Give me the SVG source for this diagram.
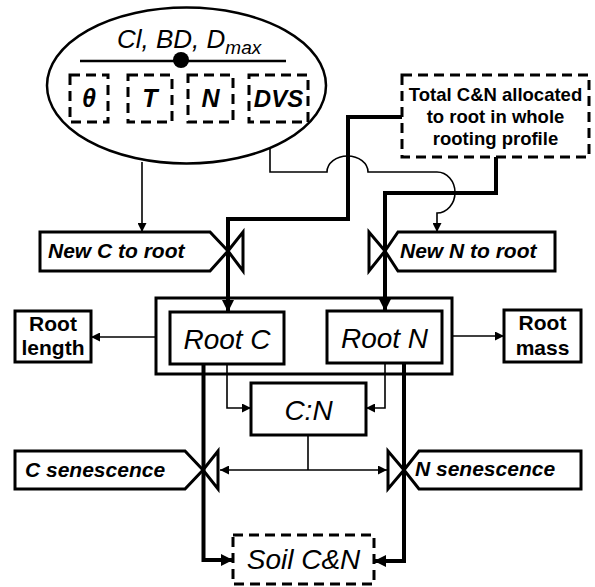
<svg xmlns="http://www.w3.org/2000/svg" width="595" height="587" viewBox="0 0 595 587">
<style>
text{font-family:"Liberation Sans",Arial,sans-serif;fill:#000}
.box{fill:#fff;stroke:#000;stroke-width:3}
.dash{fill:none;stroke:#000;stroke-width:3;stroke-dasharray:10,6}
.thin{fill:none;stroke:#000;stroke-width:1.6}
.thick{fill:none;stroke:#000;stroke-width:4}
.bi{font-weight:bold;font-style:italic}
.it{font-style:italic}
.b{font-weight:bold}
</style>
<defs>
<marker id="ah" viewBox="0 0 10 10" refX="10" refY="5" markerWidth="11" markerHeight="9" markerUnits="userSpaceOnUse" orient="auto"><path d="M0,0L10,5L0,10z" fill="#000"/></marker>
<marker id="ahT" viewBox="0 0 10 10" refX="10" refY="5" markerWidth="13" markerHeight="12" markerUnits="userSpaceOnUse" orient="auto"><path d="M0,0L10,5L0,10z" fill="#000"/></marker>
</defs>
<rect width="595" height="587" fill="#fff"/>

<g id="soil-properties">
<ellipse cx="186.5" cy="85.5" rx="139.5" ry="78" fill="#fff" stroke="#000" stroke-width="2.5"/>
<text x="117" y="48" font-size="26" class="it">Cl, BD, D<tspan font-size="19" dy="6">max</tspan></text>
<line x1="80" y1="61" x2="286" y2="61" stroke="#000" stroke-width="2.5"/>
<circle cx="181" cy="60" r="8" fill="#000"/>
<rect x="70" y="75" width="38" height="47" class="dash"/>
<rect x="128" y="75" width="44" height="47" class="dash"/>
<rect x="188" y="75" width="45" height="47" class="dash"/>
<rect x="249" y="75" width="59" height="47" class="dash"/>
<text x="89" y="107" font-size="25" class="bi" text-anchor="middle">θ</text>
<text x="150" y="107" font-size="25" class="bi" text-anchor="middle">T</text>
<text x="210.5" y="107" font-size="25" class="bi" text-anchor="middle">N</text>
<text x="278.5" y="107" font-size="24" class="bi" text-anchor="middle">DVS</text>
</g>

<g id="total-cn">
<rect x="402" y="75" width="187" height="82" class="dash"/>
<text font-size="18.5" class="b" text-anchor="middle"><tspan x="495.5" y="101">Total C&amp;N allocated</tspan><tspan x="495.5" y="123">to root in whole</tspan><tspan x="495.5" y="145">rooting profile</tspan></text>
</g>

<g id="new-c-to-root">
<path d="M40,232H210L228,251L210,271H40Z" class="box"/>
<path d="M228,251L243,232V271Z" class="box"/>
<text x="48" y="258" font-size="21" class="bi">New C to root</text>
</g>

<g id="new-n-to-root">
<path d="M385,251L398,232H555V271H398Z" class="box"/>
<path d="M385,251L369,232V271Z" class="box"/>
<text x="400" y="258" font-size="21" class="bi">New N to root</text>
</g>

<g id="root-pool">
<rect x="156" y="298" width="296" height="76" class="box"/>
</g>
<g id="root-c">
<rect x="170" y="312" width="114" height="52" class="box"/>
<text x="227" y="349" font-size="28" class="it" text-anchor="middle">Root C</text>
</g>
<g id="root-n">
<rect x="327" y="311" width="115" height="52" class="box"/>
<text x="384.5" y="348" font-size="28" class="it" text-anchor="middle">Root N</text>
</g>

<g id="root-length">
<rect x="15" y="311" width="76" height="51" class="box"/>
<text font-size="21" class="b" text-anchor="middle"><tspan x="53" y="331">Root</tspan><tspan x="53" y="355">length</tspan></text>
</g>
<g id="root-mass">
<rect x="504" y="310" width="77" height="52" class="box"/>
<text font-size="21" class="b" text-anchor="middle"><tspan x="542.5" y="330">Root</tspan><tspan x="542.5" y="355">mass</tspan></text>
</g>

<g id="cn-ratio">
<rect x="251" y="383" width="115" height="52" class="box"/>
<text x="308.5" y="420" font-size="28" class="it" text-anchor="middle">C:N</text>
</g>

<g id="c-senescence">
<path d="M15,451H185L203,470L185,489H15Z" class="box"/>
<path d="M203,470L218,451V489Z" class="box"/>
<text x="25" y="477" font-size="21" class="bi">C senescence</text>
</g>

<g id="n-senescence">
<path d="M404,470L419,451H581V489H419Z" class="box"/>
<path d="M404,470L388,451V489Z" class="box"/>
<text x="415" y="476" font-size="21" class="bi">N senescence</text>
</g>

<g id="soil-cn">
<rect x="233" y="535" width="141" height="49" class="dash"/>
<text x="303.5" y="569" font-size="28" class="it" text-anchor="middle">Soil C&amp;N</text>
</g>

<g id="connectors">
<path d="M142,162V232" class="thin" marker-end="url(#ah)"/>
<path d="M270,148V172H327A20.5,16 0 0 1 368,172H437A18,20.5 0 0 1 437,213V232" class="thin" marker-end="url(#ah)"/>
<path d="M402,117H348V219H228V312" class="thick" marker-end="url(#ahT)"/>
<path d="M496,157V193H385V311" class="thick" marker-end="url(#ahT)"/>
<path d="M156,337H91" class="thin" marker-end="url(#ah)"/>
<path d="M452,336H504" class="thin" marker-end="url(#ah)"/>
<path d="M227,364V408H251" class="thin" marker-end="url(#ah)"/>
<path d="M385,363V408H366" class="thin" marker-end="url(#ah)"/>
<path d="M308,435V470" class="thin"/>
<path d="M308,470H220" class="thin" marker-end="url(#ah)"/>
<path d="M308,470H387" class="thin" marker-end="url(#ah)"/>
<path d="M203.5,364V560H233" class="thick" marker-end="url(#ahT)"/>
<path d="M404,363V561H374" class="thick" marker-end="url(#ahT)"/>
</g>
</svg>
